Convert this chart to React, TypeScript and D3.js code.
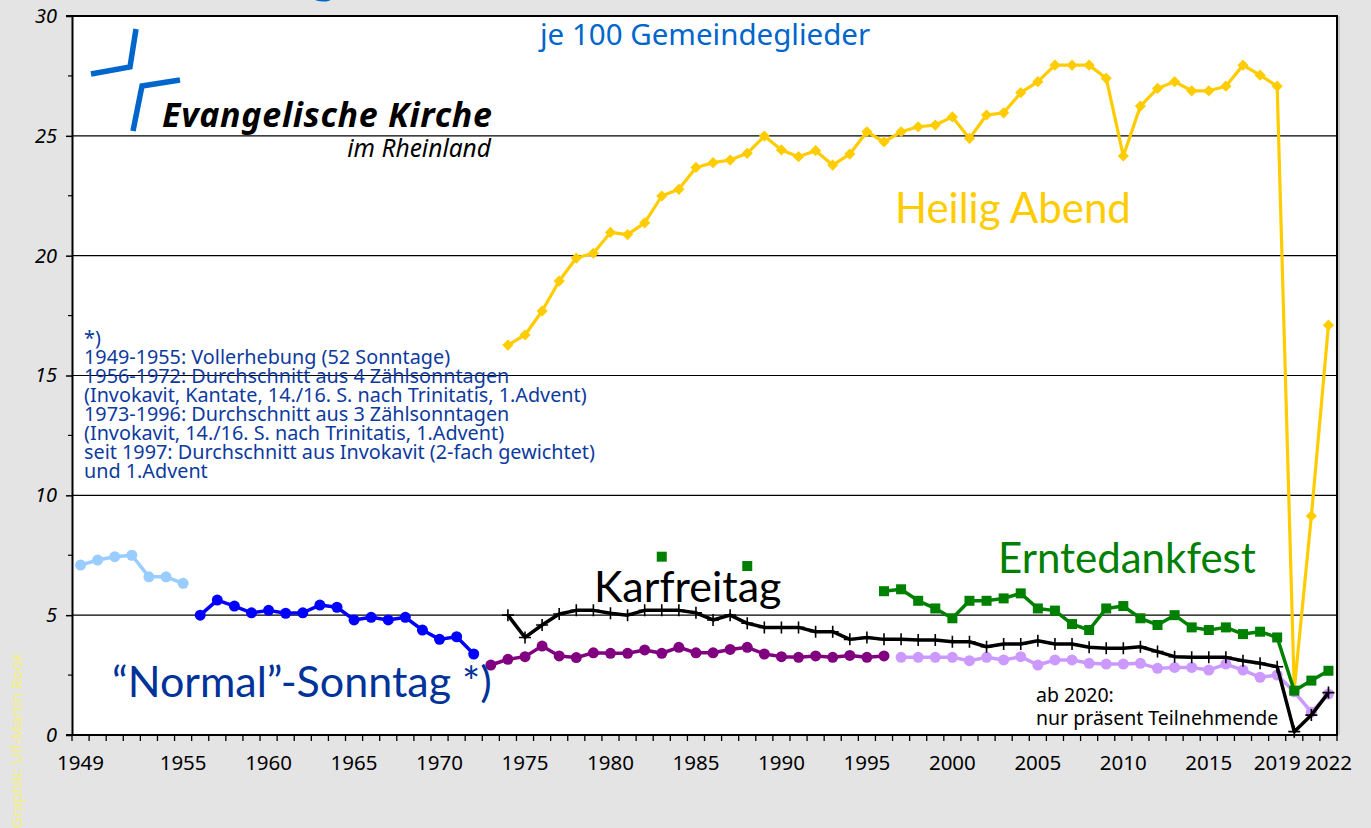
import * as d3 from "d3";
import React, { useEffect, useRef } from "react";

// Jahre (Kategorien der x-Achse)
const years = [
  1949, 1950, 1951, 1952, 1953, 1954, 1955, 1956, 1957, 1958, 1959, 1960,
  1961, 1962, 1963, 1964, 1965, 1966, 1967, 1968, 1969, 1970, 1971, 1972,
  1973, 1974, 1975, 1976, 1977, 1978, 1979, 1980, 1981, 1982, 1983, 1984,
  1985, 1986, 1987, 1988, 1989, 1990, 1991, 1992, 1993, 1994, 1995, 1996,
  1997, 1998, 1999, 2000, 2001, 2002, 2003, 2004, 2005, 2006, 2007, 2008,
  2009, 2010, 2011, 2012, 2013, 2014, 2015, 2016, 2017, 2018, 2019, 2020,
  2021, 2022,
];
const xTickLabels = [1949, 1955, 1960, 1965, 1970, 1975, 1980, 1985, 1990, 1995, 2000, 2005, 2010, 2015, 2019, 2022];
const yTicks = [0, 5, 10, 15, 20, 25, 30];
const yMinorTicks = [2.5, 7.5, 12.5, 17.5, 22.5, 27.5];

// "Normal"-Sonntag, vier Erhebungsarten
const sonntagVoll = [7.09, 7.3, 7.44, 7.5, 6.6, 6.6, 6.33]; // ab 1949
const sonntag4 = [5.0, 5.63, 5.38, 5.1, 5.2, 5.08, 5.1, 5.42, 5.33, 4.8, 4.91, 4.8, 4.91, 4.38, 3.99, 4.1, 3.38]; // ab 1956
const sonntag3 = [2.92, 3.16, 3.27, 3.71, 3.3, 3.23, 3.43, 3.41, 3.41, 3.55, 3.41, 3.66, 3.43, 3.43, 3.57, 3.66, 3.38, 3.27, 3.24, 3.3, 3.24, 3.32, 3.24, 3.3]; // ab 1973
const sonntagInvo = [3.24, 3.24, 3.24, 3.24, 3.1, 3.24, 3.13, 3.27, 2.92, 3.13, 3.13, 2.99, 2.96, 2.96, 2.99, 2.78, 2.82, 2.82, 2.71, 2.96, 2.71, 2.41, 2.5, 1.8, 0.95, 1.71]; // ab 1997

// Karfreitag ab 1974
const karfreitag = [
  5.0, 4.07, 4.59, 5.05, 5.2, 5.2, 5.08, 5.0, 5.2, 5.2, 5.2, 5.1, 4.8, 5.0, 4.66, 4.49, 4.49, 4.49, 4.31, 4.31, 3.99, 4.07, 3.99, 3.99,
  3.96, 3.96, 3.89, 3.89, 3.68, 3.8, 3.8, 3.93, 3.8, 3.8, 3.66, 3.62, 3.62, 3.68, 3.48, 3.27, 3.24, 3.24, 3.24, 3.1, 2.99, 2.85, 0.14, 0.83, 1.77,
];

// Heilig Abend ab 1974
const heiligAbend = [
  16.27, 16.69, 17.69, 18.94, 19.9, 20.1, 20.97, 20.88, 21.37, 22.49,
  22.77, 23.68, 23.88, 23.99, 24.27, 24.99, 24.41, 24.13, 24.38, 23.78,
  24.24, 25.17, 24.75, 25.17, 25.38, 25.45, 25.79, 24.89, 25.87, 25.96,
  26.8, 27.26, 27.95, 27.95, 27.95, 27.4, 24.16, 26.24, 26.98, 27.26,
  26.88, 26.88, 27.07, 27.95, 27.53, 27.07, 1.9, 9.14, 17.1,
];

// Erntedankfest ab 1983 (Lücken = null)
const erntedank = [
  7.44, null, null, null, null, 7.05, null, null, null, null, null, null, null,
  6.0, 6.08, 5.6, 5.28, 4.87, 5.6, 5.6, 5.7, 5.91, 5.28, 5.19, 4.63, 4.38, 5.28, 5.38,
  4.87, 4.59, 5.0, 4.49, 4.38, 4.49, 4.21, 4.31, 4.07, 1.85, 2.27, 2.68,
];

const noteLines = [
  "*)",
  "1949-1955: Vollerhebung (52 Sonntage)",
  "1956-1972: Durchschnitt aus 4 Zählsonntagen",
  "(Invokavit, Kantate, 14./16. S. nach Trinitatis, 1.Advent)",
  "1973-1996: Durchschnitt aus 3 Zählsonntagen",
  "(Invokavit, 14./16. S. nach Trinitatis, 1.Advent)",
  "seit 1997: Durchschnitt aus Invokavit (2-fach gewichtet)",
  "und 1.Advent",
];

const FONT = "Lato, 'Noto Sans', sans-serif";
const FONT2 = "'Noto Sans', 'Open Sans', sans-serif";

type Pt = { year: number; v: number | null };
const toPts = (start: number, vals: (number | null)[]): Pt[] =>
  vals.map((v, i) => ({ year: start + i, v }));

const App = () => {
  const svgRef = useRef<SVGSVGElement>(null);

  useEffect(() => {
    const svg = d3.select(svgRef.current);
    const width = 1371;
    const height = 828;
    const margin = { top: 16, right: 34, bottom: 93, left: 72 };

    svg.selectAll("*").remove();

    const x = d3
      .scaleBand<number>()
      .domain(years)
      .range([margin.left, width - margin.right])
      .padding(0);
    const xc = (yr: number) => (x(yr) as number) + x.bandwidth() / 2;
    const y = d3
      .scaleLinear()
      .domain([0, 30])
      .range([height - margin.bottom, margin.top]);

    const x0 = margin.left;
    const x1 = width - margin.right;

    // Hintergrund
    svg.append("rect").attr("width", width).attr("height", height).attr("fill", "#e4e4e4");
    svg
      .append("rect")
      .attr("x", x0)
      .attr("y", y(30))
      .attr("width", x1 - x0)
      .attr("height", y(0) - y(30))
      .attr("fill", "#fff");

    // Titel-Fragment oben (abgeschnitten)
    svg
      .append("text")
      .attr("x", 308)
      .attr("y", -9)
      .attr("fill", "#0066cc")
      .style("font-family", FONT)
      .style("font-size", "60px")
      .text("g");

    // Gitterlinien
    svg
      .append("g")
      .selectAll("line")
      .data([5, 10, 15, 20, 25])
      .enter()
      .append("line")
      .attr("x1", x0)
      .attr("x2", x1)
      .attr("y1", (d) => y(d))
      .attr("y2", (d) => y(d))
      .attr("stroke", "#000")
      .attr("stroke-width", 1.2);

    // Rahmen oben / rechts
    svg.append("line").attr("x1", x0 - 6).attr("x2", x1 + 1).attr("y1", y(30)).attr("y2", y(30)).attr("stroke", "#000").attr("stroke-width", 2);
    svg.append("line").attr("x1", x1).attr("x2", x1).attr("y1", y(30)).attr("y2", y(0)).attr("stroke", "#000").attr("stroke-width", 2);
    svg.append("line").attr("x1", x1 + 2).attr("x2", x1 + 2).attr("y1", y(30)).attr("y2", y(0)).attr("stroke", "#c8c8c8").attr("stroke-width", 2);

    // y-Achse
    const yAxis = svg
      .append("g")
      .attr("transform", `translate(${x0},0)`)
      .call(d3.axisLeft(y).tickValues(yTicks).tickSize(6).tickPadding(9).tickSizeOuter(0));
    yAxis.select(".domain").attr("stroke-width", 2);
    yAxis.selectAll(".tick line").attr("stroke-width", 1.5);
    yAxis
      .selectAll("text")
      .style("font-family", FONT2)
      .style("font-size", "20px")
      .style("font-style", "italic")
      .attr("fill", "#000");
    svg
      .append("g")
      .selectAll("line")
      .data(yMinorTicks)
      .enter()
      .append("line")
      .attr("x1", x0 - 4)
      .attr("x2", x0)
      .attr("y1", (d) => y(d))
      .attr("y2", (d) => y(d))
      .attr("stroke", "#000")
      .attr("stroke-width", 1.2);

    // x-Achse: Striche an den Kategoriegrenzen
    const xAxisG = svg.append("g");
    xAxisG
      .append("line")
      .attr("x1", x0 - 6)
      .attr("x2", x1 + 1)
      .attr("y1", y(0))
      .attr("y2", y(0))
      .attr("stroke", "#000")
      .attr("stroke-width", 2);
    xAxisG
      .selectAll("line.tk")
      .data(years.concat([2023]))
      .enter()
      .append("line")
      .attr("class", "tk")
      .attr("x1", (d) => (d === 2023 ? x1 : (x(d) as number)))
      .attr("x2", (d) => (d === 2023 ? x1 : (x(d) as number)))
      .attr("y1", y(0))
      .attr("y2", y(0) + 6)
      .attr("stroke", "#000")
      .attr("stroke-width", 1.3);
    xAxisG
      .selectAll("text")
      .data(xTickLabels)
      .enter()
      .append("text")
      .attr("x", (d) => xc(d))
      .attr("y", y(0) + 35)
      .attr("text-anchor", "middle")
      .attr("fill", "#000")
      .style("font-family", FONT2)
      .style("font-size", "20.5px")
      .text((d) => d);

    // Linien
    const line = d3
      .line<Pt>()
      .defined((d) => d.v != null)
      .x((d) => xc(d.year))
      .y((d) => y(d.v as number));

    const drawLine = (pts: Pt[], color: string, w: number) =>
      svg
        .append("path")
        .datum(pts)
        .attr("d", line)
        .attr("fill", "none")
        .attr("stroke", color)
        .attr("stroke-width", w)
        .attr("stroke-linejoin", "round");

    const drawDots = (pts: Pt[], color: string, r: number) =>
      svg
        .append("g")
        .selectAll("circle")
        .data(pts.filter((d) => d.v != null))
        .enter()
        .append("circle")
        .attr("cx", (d) => xc(d.year))
        .attr("cy", (d) => y(d.v as number))
        .attr("r", r)
        .attr("fill", color);

    // Heilig Abend
    const haPts = toPts(1974, heiligAbend);
    drawLine(haPts, "#ffcc00", 3.2);
    svg
      .append("g")
      .selectAll("path")
      .data(haPts)
      .enter()
      .append("path")
      .attr("d", d3.symbol(d3.symbolDiamond2, 80))
      .attr("transform", (d) => `translate(${xc(d.year)},${y(d.v as number)})`)
      .attr("fill", "#ffcc00");

    // Sonntage
    const s1 = toPts(1949, sonntagVoll);
    const s2 = toPts(1956, sonntag4);
    const s3 = toPts(1973, sonntag3);
    const s4 = toPts(1997, sonntagInvo);
    drawLine(s4, "#cc99ff", 3.5);
    drawDots(s4, "#cc99ff", 5.5);
    drawLine(s3, "#800080", 3.5);
    drawDots(s3, "#800080", 5.5);
    drawLine(s2, "#0000ff", 3.5);
    drawDots(s2, "#0000ff", 5.5);
    drawLine(s1, "#99ccff", 3.5);
    drawDots(s1, "#99ccff", 5.5);

    // Karfreitag
    const kfPts = toPts(1974, karfreitag);
    drawLine(kfPts, "#000", 3.5);
    svg
      .append("g")
      .selectAll("path")
      .data(kfPts)
      .enter()
      .append("path")
      .attr("d", "M-6,0H6M0,-6V6")
      .attr("transform", (d) => `translate(${xc(d.year)},${y(d.v as number)})`)
      .attr("stroke", "#000")
      .attr("stroke-width", 1.6);

    // Erntedankfest
    const edPts = toPts(1983, erntedank);
    drawLine(edPts, "#008000", 3.5);
    svg
      .append("g")
      .selectAll("rect")
      .data(edPts.filter((d) => d.v != null))
      .enter()
      .append("rect")
      .attr("x", (d) => xc(d.year) - 5)
      .attr("y", (d) => y(d.v as number) - 5)
      .attr("width", 10)
      .attr("height", 10)
      .attr("fill", "#008000");

    // Logo
    const logo = svg.append("g").attr("fill", "none").attr("stroke", "#0066cc").attr("stroke-width", 5.5);
    logo.append("path").attr("d", "M91,74 L130,67 L136,29");
    logo.append("path").attr("d", "M180,80 L142,86 L133,131");
    svg
      .append("text")
      .attr("x", 162)
      .attr("y", 127)
      .attr("fill", "#000")
      .attr("textLength", 330)
      .attr("lengthAdjust", "spacing")
      .style("font-family", FONT2)
      .style("font-size", "34px")
      .style("font-weight", "bold")
      .style("font-style", "italic")
      .text("Evangelische Kirche");
    svg
      .append("text")
      .attr("x", 491)
      .attr("y", 157)
      .attr("text-anchor", "end")
      .attr("fill", "#000")
      .style("font-family", FONT2)
      .style("font-size", "24.5px")
      .style("font-style", "italic")
      .text("im Rheinland");

    const label = (t: string, lx: number, ly: number, size: number, color: string, fam = FONT) =>
      svg
        .append("text")
        .attr("x", lx)
        .attr("y", ly)
        .attr("fill", color)
        .style("font-family", fam)
        .style("font-size", `${size}px`)
        .text(t);

    label("je 100 Gemeindeglieder", 540, 45, 29.5, "#0066cc", FONT2);
    label("Heilig Abend", 895, 223, 42, "#ffcc00");
    label("Erntedankfest", 998, 573, 42, "#008000");
    label("Karfreitag", 594, 602, 43, "#000");
    label("\u201CNormal\u201D-Sonntag *)", 112, 697, 43, "#003399");
    label("ab 2020:", 1036, 702, 19.5, "#000", FONT2);
    label("nur präsent Teilnehmende", 1036, 725, 19.5, "#000", FONT2);

    // Fußnote
    const note = svg
      .append("text")
      .attr("fill", "#0d3a9e")
      .style("font-family", FONT2)
      .style("font-size", "19.8px");
    note
      .selectAll("tspan")
      .data(noteLines)
      .enter()
      .append("tspan")
      .attr("x", 84)
      .attr("y", (_, i) => 345 + i * 19)
      .text((d) => d);

    // Grafik-Vermerk
    svg
      .append("text")
      .attr("transform", "translate(22,828) rotate(-90)")
      .attr("fill", "#f4f07a")
      .style("font-family", FONT2)
      .style("font-size", "15px")
      .text("Graphik: Ulf-Martin Rook");
  }, []);

  return (
    <svg
      ref={svgRef}
      width="1371"
      height="828"
      style={{ position: "absolute", left: 0, top: 0, display: "block" }}
    ></svg>
  );
};

export default App;
